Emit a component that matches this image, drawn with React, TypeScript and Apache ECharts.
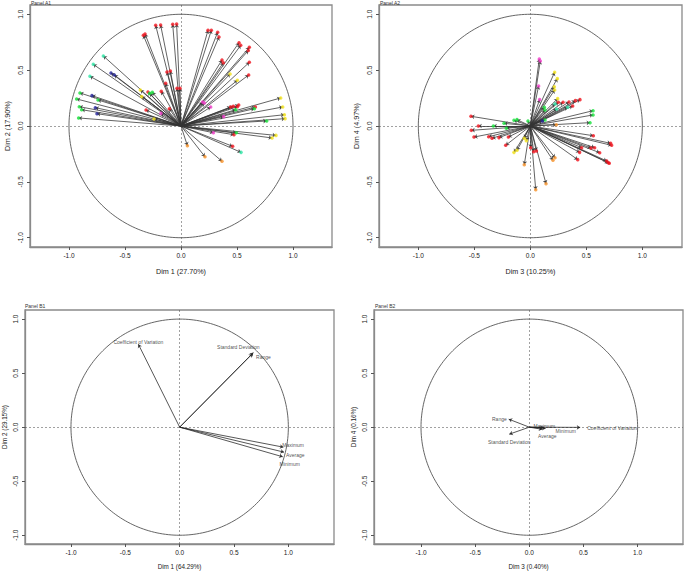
import React, { useEffect, useRef } from "react";
import * as echarts from "echarts";

// ---------- data ----------
const tickValues = [-1, -0.5, 0, 0.5, 1];

// Panel A1 (Dim 1 vs Dim 2) arrow end points, grouped by colour
const a1Red = [[-0.226,0.901],[-0.182,0.904],[-0.074,0.91],[-0.039,0.913],[-0.336,0.812],[-0.321,0.824],[0.241,0.857],[0.271,0.857],[0.327,0.839],[0.339,0.797],[0.518,0.746],[0.533,0.722],[0.61,0.704],[0.601,0.675],[0.61,0.57],[0.604,0.457],[0.366,0.591],[0.378,0.567],[-0.125,0.484],[-0.095,0.493],[-0.137,0.382],[-0.176,0.31],[-0.036,0.337],[-0.009,0.337],[-0.104,0.155],[-0.295,0.304],[-0.312,0.143],[0.515,0.188],[0.503,0.173],[0.443,0.17],[0.467,0.176],[0.664,0.17],[0.473,-0.078],[0.461,-0.182]];
const a1Yellow = [[0.438,0.466],[0.503,0.409],[-0.363,0.322],[-0.351,0.263],[-0.241,0.063],[0.89,0.251],[0.908,0.17],[0.923,0.101],[0.929,0.066],[0.848,-0.084],[0.813,-0.107]];
const a1Green = [[-0.256,0.301],[-0.28,0.292],[-0.902,0.296],[-0.932,0.242],[-0.741,0.233],[-0.908,0.173],[-0.887,0.146],[-0.914,0.072],[0.765,0.045],[0.655,0.155],[0.488,0.146],[0.494,-0.06]];
const a1Mint = [[-0.693,0.627],[-0.783,0.552],[-0.813,0.445],[0.536,-0.236]];
const a1Blue = [[-0.625,0.475],[-0.595,0.457],[-0.795,0.272],[-0.765,0.164],[-0.75,0.11]];
const a1Magenta = [[-0.179,0.113],[0.381,0.084],[0.265,0.17],[0.193,0.215],[0.208,0.206],[0.289,-0.06]];
const a1Orange = [[0.366,-0.316],[0.214,-0.275],[0.057,-0.176]];

// Panel A2 (Dim 3 vs Dim 4)
const a2Red = [[-0.53,0.087],[-0.464,0.0],[-0.527,-0.039],[-0.503,-0.099],[-0.372,-0.096],[-0.342,-0.11],[-0.28,-0.104],[-0.196,-0.099],[-0.22,-0.173],[0.003,-0.194],[0.03,-0.23],[0.054,-0.224],[0.423,-0.301],[0.5625,-0.087],[0.717,-0.155],[0.726,-0.173],[0.696,-0.328],[0.705,-0.334],[0.682,-0.313],[0.574,-0.194],[0.542,-0.197],[0.619,-0.239],[0.458,-0.194],[0.44,-0.236],[0.443,0.236],[0.402,0.227],[0.378,0.179],[0.292,0.212],[0.25,0.212],[0.345,0.215]];
const a2Yellow = [[0.217,0.481],[0.241,0.424],[0.214,0.352],[0.217,0.322],[0.244,0.245],[-0.054,-0.11],[-0.036,-0.131],[-0.146,-0.236],[-0.119,-0.218]];
const a2Magenta = [[0.08,0.6],[0.089,0.582],[0.074,0.358],[0.083,0.236]];
const a2Mint = [[0.333,0.167],[0.235,0.152],[0.22,0.197]];
const a2Green = [[0.125,0.167],[0.131,0.143],[0.131,0.054],[0.56,0.137],[0.56,0.099],[0.533,0.03],[-0.33,0.0],[-0.235,0.024],[-0.146,0.051],[-0.119,0.057],[-0.021,0.045],[-0.214,-0.021]];
const a2Orange = [[0.232,0.012],[-0.054,-0.346],[0.048,-0.57],[0.14,-0.516],[0.202,-0.307],[0.22,-0.284]];
const a2Blue = [[0.107,0.045]];

// Panel B1 / B2 variables
const bVars = ["Coefficient of Variation", "Standard Deviation", "Range", "Maximum", "Average", "Minimum"];
const b1X = [-0.38, 0.678, 0.669, 0.954, 0.96, 0.948];
const b1Y = [0.767, 0.69, 0.678, -0.185, -0.231, -0.274];
const b2X = [0.47, -0.185, -0.19, 0.13, 0.12, 0.15];
const b2Y = [-0.002, -0.065, 0.074, -0.005, -0.02, -0.012];

// ---------- styling ----------
const FONT = "'Liberation Sans', Arial, sans-serif";
const colors = {
  red: "#f0141e",
  yellow: "#f2e21a",
  green: "#19e23c",
  mint: "#2fe6a6",
  blue: "#24249a",
  magenta: "#f03cc8",
  orange: "#f6922a",
};

const b1LabelStyle = [
  { position: "top", distance: 0, offset: [0, 0] },
  { position: "top", distance: 5, offset: [-15, 2] },
  { position: "bottom", distance: 5, offset: [11, -4] },
  { position: "right", distance: 0, offset: [-1, -2] },
  { position: "right", distance: 2, offset: [0, 3] },
  { position: "bottom", distance: 5, offset: [7, 0] },
];
const b2LabelStyle = [
  { position: "right", distance: 7, offset: [0, 1] },
  { position: "bottom", distance: 5, offset: [0, 0] },
  { position: "left", distance: 2, offset: [0, 0] },
  { position: "top", distance: 0, offset: [1, 1] },
  { position: "bottom", distance: 5, offset: [5, -1] },
  { position: "right", distance: 1, offset: [9, 3] },
];

const circle: number[][] = [];
for (let i = 0; i <= 240; i++) {
  const t = (i / 240) * Math.PI * 2;
  circle.push([Math.cos(t), Math.sin(t)]);
}

type Panel = {
  left: number; top: number; width: number; height: number;
  xmin: number; xmax: number; ymin: number; ymax: number;
  xName: string; yName: string; nameSize: number;
  xNameGap: number; yNameGap: number;
};

const panels: Panel[] = [
  { left: 30, top: 5, width: 302, height: 242, xmin: -1.348, xmax: 1.348, ymin: -1.083, ymax: 1.083, xName: "Dim 1 (27.70%)", yName: "Dim 2 (17.90%)", nameSize: 7.2, xNameGap: 21, yNameGap: 19 },
  { left: 379, top: 5, width: 303, height: 242, xmin: -1.351, xmax: 1.354, ymin: -1.083, ymax: 1.083, xName: "Dim 3 (10.25%)", yName: "Dim 4 (4.97%)", nameSize: 7.2, xNameGap: 21, yNameGap: 19 },
  { left: 25, top: 310, width: 309, height: 234, xmin: -1.423, xmax: 1.42, ymin: -1.081, ymax: 1.084, xName: "Dim 1 (64.29%)", yName: "Dim 2 (29.15%)", nameSize: 6.3, xNameGap: 19, yNameGap: 18 },
  { left: 374, top: 310, width: 309, height: 234, xmin: -1.434, xmax: 1.419, ymin: -1.081, ymax: 1.084, xName: "Dim 3 (0.40%)", yName: "Dim 4 (0.16%)", nameSize: 6.3, xNameGap: 19, yNameGap: 18 },
];

const panelTitles = [
  { text: "Panel A1", left: 31, top: 0 },
  { text: "Panel A2", left: 380, top: 0 },
  { text: "Panel B1", left: 25, top: 303 },
  { text: "Panel B2", left: 375, top: 303 },
];

function arrowSeries(idx: number, pts: number[][], color = "#333") {
  return {
    type: "lines",
    coordinateSystem: "cartesian2d",
    xAxisIndex: idx,
    yAxisIndex: idx,
    silent: true,
    color,
    symbol: ["none", "arrow"],
    symbolSize: 3.5,
    itemStyle: { color },
    lineStyle: { color, width: 0.9, opacity: 0.85 },
    data: pts.map((p) => ({ coords: [[0, 0], p] })),
    z: 3,
  };
}

function dotSeries(idx: number, pts: number[][], color: string) {
  return {
    type: "scatter",
    xAxisIndex: idx,
    yAxisIndex: idx,
    silent: true,
    symbol: "circle",
    symbolSize: 3.5,
    itemStyle: { color },
    data: pts,
    z: 5,
  };
}

function frameSeries(idx: number, p: Panel) {
  return [
    {
      type: "line",
      xAxisIndex: idx,
      yAxisIndex: idx,
      data: circle,
      showSymbol: false,
      silent: true,
      color: "#555",
      lineStyle: { color: "#555", width: 0.9 },
      z: 2,
    },
    {
      type: "lines",
      coordinateSystem: "cartesian2d",
      xAxisIndex: idx,
      yAxisIndex: idx,
      silent: true,
      color: "#444",
      lineStyle: { color: "#444", width: 1, type: [2, 2] },
      data: [
        { coords: [[p.xmin, 0], [p.xmax, 0]] },
        { coords: [[0, p.ymin], [0, p.ymax]] },
      ],
      z: 2,
    },
  ];
}

function labelSeries(idx: number, xs: number[], ys: number[], styles: any[]) {
  return {
    type: "scatter",
    xAxisIndex: idx,
    yAxisIndex: idx,
    silent: true,
    symbolSize: 0,
    color: "#222",
    itemStyle: { color: "#222" },
    data: bVars.map((name, i) => ({
      name,
      value: [xs[i], ys[i]],
      label: {
        show: true,
        formatter: name,
        position: styles[i].position,
        distance: styles[i].distance,
        offset: styles[i].offset,
        fontSize: 5,
        color: "#222",
        fontFamily: FONT,
      },
    })),
    z: 6,
  };
}

export default function App() {
  const ref = useRef<HTMLDivElement>(null);
  useEffect(() => {
    if (!ref.current) return;
    const chart = echarts.init(ref.current, undefined, { renderer: "svg" });

    const grid = panels.map((p) => ({
      left: p.left, top: p.top, width: p.width, height: p.height,
      show: true, borderColor: "#8a8a8a", borderWidth: 1.3, backgroundColor: "transparent",
    }));
    const xAxis = panels.map((p, i) => ({
      type: "value", gridIndex: i, min: p.xmin, max: p.xmax,
      axisLine: { show: true, onZero: false, lineStyle: { color: "#8a8a8a", width: 1.3 } },
      axisTick: { show: true, customValues: tickValues, length: 3, lineStyle: { color: "#555" } },
      axisLabel: { customValues: tickValues, formatter: (v: number) => v.toFixed(1), fontSize: 6.5, color: "#222", margin: 5, fontFamily: FONT },
      splitLine: { show: false },
      name: p.xName, nameLocation: "middle", nameGap: p.xNameGap,
      nameTextStyle: { fontSize: p.nameSize, color: "#222", fontFamily: FONT },
    }));
    const yAxis = panels.map((p, i) => ({
      type: "value", gridIndex: i, min: p.ymin, max: p.ymax,
      axisLine: { show: true, onZero: false, lineStyle: { color: "#8a8a8a", width: 1.3 } },
      axisTick: { show: true, customValues: tickValues, length: 3, lineStyle: { color: "#555" } },
      axisLabel: { customValues: tickValues, formatter: (v: number) => v.toFixed(1), fontSize: 6.5, color: "#222", margin: 6, rotate: 90, fontFamily: FONT },
      splitLine: { show: false },
      name: p.yName, nameLocation: "middle", nameGap: p.yNameGap,
      nameTextStyle: { fontSize: p.nameSize, color: "#222", fontFamily: FONT },
    }));

    const a1Groups: [number[][], string][] = [
      [a1Red, colors.red], [a1Yellow, colors.yellow], [a1Green, colors.green],
      [a1Mint, colors.mint], [a1Blue, colors.blue], [a1Magenta, colors.magenta], [a1Orange, colors.orange],
    ];
    const a2Groups: [number[][], string][] = [
      [a2Red, colors.red], [a2Yellow, colors.yellow], [a2Green, colors.green],
      [a2Mint, colors.mint], [a2Blue, colors.blue], [a2Magenta, colors.magenta], [a2Orange, colors.orange],
    ];

    const series: any[] = [];
    panels.forEach((p, i) => series.push(...frameSeries(i, p)));
    a1Groups.forEach(([pts]) => series.push(arrowSeries(0, pts)));
    a1Groups.forEach(([pts, c]) => series.push(dotSeries(0, pts, c)));
    a2Groups.forEach(([pts]) => series.push(arrowSeries(1, pts)));
    a2Groups.forEach(([pts, c]) => series.push(dotSeries(1, pts, c)));
    const b1Pts = b1X.map((x, i) => [x, b1Y[i]]);
    const b2Pts = b2X.map((x, i) => [x, b2Y[i]]);
    series.push(arrowSeries(2, b1Pts, "#222"));
    series.push(arrowSeries(3, b2Pts, "#222"));
    series.push(labelSeries(2, b1X, b1Y, b1LabelStyle));
    series.push(labelSeries(3, b2X, b2Y, b2LabelStyle));

    chart.setOption({
      animation: false,
      backgroundColor: "#ffffff",
      title: panelTitles.map((t) => ({
        text: t.text, left: t.left, top: t.top, padding: 0,
        textStyle: { fontSize: 5, fontWeight: "normal", color: "#333", fontFamily: FONT },
      })),
      grid,
      xAxis,
      yAxis,
      series,
    });
    return () => chart.dispose();
  }, []);

  return (
    <div
      ref={ref}
      style={{ position: "absolute", left: 0, top: 0, width: 685, height: 571, background: "#fff" }}
    />
  );
}
